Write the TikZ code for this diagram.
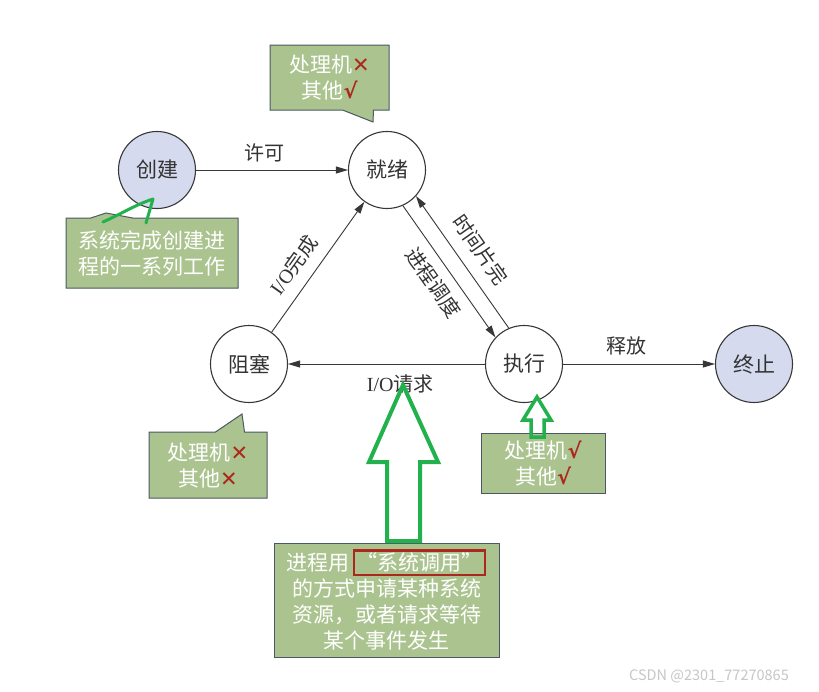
\documentclass[tikz,border=0pt]{standalone}
\usepackage{fontspec}
\setmainfont{Liberation Serif}
\newfontfamily\cjk{Noto Sans CJK SC}
\newfontfamily\sym{DejaVu Sans}
\usetikzlibrary{arrows.meta,shapes.callouts}
\definecolor{edgegray}{RGB}{55,55,55}
\definecolor{statelilac}{RGB}{213,218,238}
\definecolor{notegreen}{RGB}{171,196,143}
\definecolor{noteedge}{RGB}{75,88,100}
\definecolor{marksred}{RGB}{170,40,30}
\definecolor{handgreen}{RGB}{34,177,76}
\newcommand{\markno}{{\sym\color{marksred}✕}}
\newcommand{\markyes}{{\sym\bfseries\color{marksred}√}}
\newcommand{\sysbox}[1]{{\setlength{\fboxsep}{1.5pt}\setlength{\fboxrule}{2.2pt}\fcolorbox{marksred}{notegreen}{#1}}}
\tikzset{
  state/.style={circle,draw=edgegray,line width=1.1pt,minimum size=77pt,inner sep=0pt,
                font=\cjk\fontsize{21}{25}\selectfont,text=black!80},
  endstate/.style={state,fill=statelilac},
  flow/.style={-{Triangle[length=12pt,width=7pt]},draw=edgegray,line width=0.9pt},
  lab/.style={font=\cjk\fontsize{20}{24}\selectfont,text=black!80},
  notebase/.style={draw=noteedge,line width=1pt,fill=notegreen,text=white,inner sep=0pt,
                   align=center,font=\cjk\fontsize{21}{26}\selectfont},
  note/.style={notebase,rectangle callout},
  plainnote/.style={notebase,rectangle},
  hand/.style={draw=handgreen,line width=4pt,line join=miter},
}
\begin{document}
\begin{tikzpicture}[x=1pt,y=-1pt]
  \fill[white] (0,0) rectangle (819,691);
  \useasboundingbox (0,0) rectangle (819,691);

  % states
  \node[endstate] (create) at (157,170) {创建};
  \node[state] (ready) at (387,170) {就绪};
  \node[state] (blocked) at (249,364) {阻塞};
  \node[state] (running) at (524,364) {执行};
  \node[endstate] (exit) at (754,364) {终止};

  % transitions
  \draw[flow] (create) -- node[lab,above=4pt,pos=0.45] {许可} (ready);
  \draw[flow] (running) -- node[lab,below=7pt,pos=0.43] {\textrm{I/O}请求} (blocked);
  \draw[flow] (running) -- node[lab,above=5pt,pos=0.42] {释放} (exit);
  \draw[flow] (blocked) -- node[lab,sloped,above=8pt,pos=0.42] {\textrm{I/O}完成} (ready);
  \draw[flow] (ready.-66.6) -- node[lab,sloped,below=6pt,pos=0.5] {进程调度} (running.137.4);
  \draw[flow] (running.113.4) -- node[lab,sloped,above=9pt] {时间片完} (ready.-42.6);

  % notes
  \node[note,minimum width=119pt,minimum height=65pt,callout absolute pointer={(373,122)},
        callout pointer width=31pt] (readynote) at (329.5,77.5) {处理机\markno\\其他\markyes};
  \node[note,minimum width=172pt,minimum height=70pt,callout absolute pointer={(106,213)},
        callout pointer width=42pt] (createnote) at (152,253) {系统完成创建进\\程的一系列工作};
  \node[note,minimum width=118pt,minimum height=66pt,callout absolute pointer={(242,414)},
        callout pointer width=29pt] (blockednote) at (208,465) {处理机\markno\\其他\markno};
  \node[plainnote,minimum width=124pt,minimum height=60pt] (runningnote) at (543,463)
    {处理机\markyes\\其他\markyes};
  \node[plainnote,minimum width=225pt,minimum height=114pt] (callnote) at (386.5,600)
    {进程用\,\sysbox{“系统调用”}\\的方式申请某种系统\\资源，或者请求等待\\某个事件发生};

  % green marks
  \draw[hand,line width=3pt,line cap=round,line join=round]
    (103,222) .. controls (125,212) and (135,205) .. (153,199) -- (146,223);
  \draw[hand] (403,385) -- (369,462) -- (387,462) -- (387,541) -- (420,541) -- (420,462)
    -- (438,462) -- cycle;
  \draw[hand,line width=3.5pt] (537,397) -- (523,420) -- (531,420) -- (531,437) -- (544,437)
    -- (544,420) -- (551,420) -- cycle;

  \node[font=\cjk\fontsize{14.5}{16}\selectfont,text=black!22] (mark) at (709,676)
    {CSDN @2301\_77270865};
\end{tikzpicture}
\end{document}
